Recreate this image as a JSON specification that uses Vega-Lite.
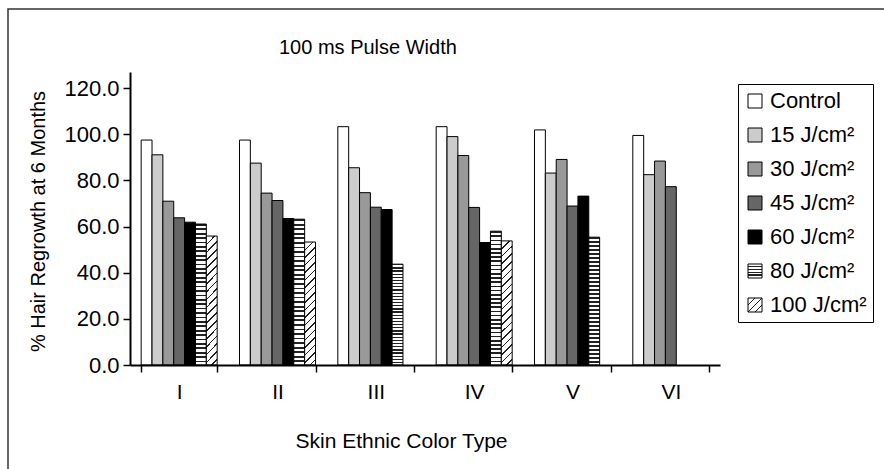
{
  "$schema": "https://vega.github.io/schema/vega-lite/v6.json",
  "width": 890,
  "height": 470,
  "autosize": {"type": "none"},
  "padding": {"left": 8, "top": 9, "right": 0, "bottom": 0},
  "background": "white",
  "config": {
    "font": "Liberation Sans",
    "view": {"stroke": "#333333", "strokeWidth": 1.5, "fill": "white"}
  },
  "title": {
    "text": "100 ms Pulse Width",
    "anchor": "start",
    "frame": "group",
    "dx": 271,
    "offset": 0,
    "dy": 65,
    "baseline": "alphabetic",
    "fontSize": 20,
    "fontWeight": "normal",
    "color": "black"
  },
  "data": {
    "values": [
      {"type": "I", "dose": "Control", "value": 97.5},
      {"type": "I", "dose": "15 J/cm²", "value": 91.1},
      {"type": "I", "dose": "30 J/cm²", "value": 71.0},
      {"type": "I", "dose": "45 J/cm²", "value": 63.8},
      {"type": "I", "dose": "60 J/cm²", "value": 61.9},
      {"type": "I", "dose": "80 J/cm²", "value": 61.1},
      {"type": "I", "dose": "100 J/cm²", "value": 55.9},
      {"type": "II", "dose": "Control", "value": 97.5},
      {"type": "II", "dose": "15 J/cm²", "value": 87.5},
      {"type": "II", "dose": "30 J/cm²", "value": 74.5},
      {"type": "II", "dose": "45 J/cm²", "value": 71.3},
      {"type": "II", "dose": "60 J/cm²", "value": 63.5},
      {"type": "II", "dose": "80 J/cm²", "value": 63.2},
      {"type": "II", "dose": "100 J/cm²", "value": 53.3},
      {"type": "III", "dose": "Control", "value": 103.3},
      {"type": "III", "dose": "15 J/cm²", "value": 85.5},
      {"type": "III", "dose": "30 J/cm²", "value": 74.7},
      {"type": "III", "dose": "45 J/cm²", "value": 68.4},
      {"type": "III", "dose": "60 J/cm²", "value": 67.4},
      {"type": "III", "dose": "80 J/cm²", "value": 43.7},
      {"type": "IV", "dose": "Control", "value": 103.3},
      {"type": "IV", "dose": "15 J/cm²", "value": 99.0},
      {"type": "IV", "dose": "30 J/cm²", "value": 90.8},
      {"type": "IV", "dose": "45 J/cm²", "value": 68.3},
      {"type": "IV", "dose": "60 J/cm²", "value": 53.1},
      {"type": "IV", "dose": "80 J/cm²", "value": 58.0},
      {"type": "IV", "dose": "100 J/cm²", "value": 53.8},
      {"type": "V", "dose": "Control", "value": 101.9},
      {"type": "V", "dose": "15 J/cm²", "value": 83.2},
      {"type": "V", "dose": "30 J/cm²", "value": 89.1},
      {"type": "V", "dose": "45 J/cm²", "value": 68.9},
      {"type": "V", "dose": "60 J/cm²", "value": 73.2},
      {"type": "V", "dose": "80 J/cm²", "value": 55.4},
      {"type": "VI", "dose": "Control", "value": 99.5},
      {"type": "VI", "dose": "15 J/cm²", "value": 82.5},
      {"type": "VI", "dose": "30 J/cm²", "value": 88.4},
      {"type": "VI", "dose": "45 J/cm²", "value": 77.3}
    ]
  },
  "mark": {"type": "bar", "strokeWidth": 1},
  "encoding": {
    "x": {
      "field": "type",
      "type": "nominal",
      "sort": ["I", "II", "III", "IV", "V", "VI"],
      "scale": {"range": [122, 712], "paddingInner": 0.227, "paddingOuter": 0.1135},
      "axis": {
        "orient": "bottom",
        "offset": -114,
        "tickBand": "extent",
        "domainColor": "black",
        "domainWidth": 2,
        "tickColor": "black",
        "tickWidth": 1.5,
        "tickSize": 7,
        "labelFontSize": 21,
        "labelColor": "black",
        "labelPadding": 9,
        "labelAngle": 0,
        "title": "Skin Ethnic Color Type",
        "titleFontSize": 21,
        "titleFontWeight": "normal",
        "titleColor": "black",
        "titleX": 393,
        "titleY": 82,
        "titleBaseline": "alphabetic",
        "titleAlign": "center",
        "zindex": 1
      }
    },
    "xOffset": {
      "field": "dose",
      "type": "nominal",
      "sort": ["Control", "15 J/cm²", "30 J/cm²", "45 J/cm²", "60 J/cm²", "80 J/cm²", "100 J/cm²"],
      "scale": {"paddingInner": 0, "paddingOuter": 0}
    },
    "y": {
      "field": "value",
      "type": "quantitative",
      "scale": {"domain": [0, 127], "range": [356, 63], "nice": false, "zero": true},
      "axis": {
        "values": [0, 20, 40, 60, 80, 100, 120],
        "format": ".1f",
        "offset": -122,
        "domainColor": "black",
        "domainWidth": 2,
        "tickColor": "black",
        "tickWidth": 1.5,
        "tickSize": 7,
        "labelFontSize": 22,
        "labelColor": "black",
        "labelPadding": 4,
        "grid": false,
        "title": "% Hair Regrowth at 6 Months",
        "titleFontSize": 20,
        "titleFontWeight": "normal",
        "titleColor": "black",
        "titleX": -92,
        "titleY": 212,
        "titleAngle": -90,
        "titleBaseline": "middle",
        "titleAlign": "center",
        "zindex": 1
      }
    },
    "stroke": {
      "field": "dose",
      "type": "nominal",
      "sort": ["Control", "15 J/cm²", "30 J/cm²", "45 J/cm²", "60 J/cm²", "80 J/cm²", "100 J/cm²"],
      "scale": {
        "domain": ["Control", "15 J/cm²", "30 J/cm²", "45 J/cm²", "60 J/cm²", "80 J/cm²", "100 J/cm²"],
        "range": ["#000000", "#000000", "#000000", "#000000", "#000000", "#000000", "#000000"]
      },
      "legend": {
        "orient": "none",
        "legendX": 730,
        "legendY": 75,
        "title": null,
        "strokeColor": "black",
        "padding": 6,
        "symbolType": "square",
        "symbolSize": 196,
        "symbolStrokeWidth": 1,
        "symbolOpacity": 1,
        "labelFontSize": 22,
        "labelColor": "black",
        "labelOffset": 4,
        "rowPadding": 12
      }
    },
    "fill": {
      "condition": [
        {
          "test": "datum.dose === '80 J/cm²'",
          "value": {
            "gradient": "linear", "x1": 0, "y1": 0, "x2": 0, "y2": 1,
            "stops": [
              {"offset": 0, "color": "#222"}, {"offset": 0.0125, "color": "#222"}, {"offset": 0.0125, "color": "#fff"}, {"offset": 0.03125, "color": "#fff"},
              {"offset": 0.03125, "color": "#222"}, {"offset": 0.04375, "color": "#222"}, {"offset": 0.04375, "color": "#fff"}, {"offset": 0.0625, "color": "#fff"},
              {"offset": 0.0625, "color": "#222"}, {"offset": 0.075, "color": "#222"}, {"offset": 0.075, "color": "#fff"}, {"offset": 0.09375, "color": "#fff"},
              {"offset": 0.09375, "color": "#222"}, {"offset": 0.10625, "color": "#222"}, {"offset": 0.10625, "color": "#fff"}, {"offset": 0.125, "color": "#fff"},
              {"offset": 0.125, "color": "#222"}, {"offset": 0.1375, "color": "#222"}, {"offset": 0.1375, "color": "#fff"}, {"offset": 0.15625, "color": "#fff"},
              {"offset": 0.15625, "color": "#222"}, {"offset": 0.16875, "color": "#222"}, {"offset": 0.16875, "color": "#fff"}, {"offset": 0.1875, "color": "#fff"},
              {"offset": 0.1875, "color": "#222"}, {"offset": 0.2, "color": "#222"}, {"offset": 0.2, "color": "#fff"}, {"offset": 0.21875, "color": "#fff"},
              {"offset": 0.21875, "color": "#222"}, {"offset": 0.23125, "color": "#222"}, {"offset": 0.23125, "color": "#fff"}, {"offset": 0.25, "color": "#fff"},
              {"offset": 0.25, "color": "#222"}, {"offset": 0.2625, "color": "#222"}, {"offset": 0.2625, "color": "#fff"}, {"offset": 0.28125, "color": "#fff"},
              {"offset": 0.28125, "color": "#222"}, {"offset": 0.29375, "color": "#222"}, {"offset": 0.29375, "color": "#fff"}, {"offset": 0.3125, "color": "#fff"},
              {"offset": 0.3125, "color": "#222"}, {"offset": 0.325, "color": "#222"}, {"offset": 0.325, "color": "#fff"}, {"offset": 0.34375, "color": "#fff"},
              {"offset": 0.34375, "color": "#222"}, {"offset": 0.35625, "color": "#222"}, {"offset": 0.35625, "color": "#fff"}, {"offset": 0.375, "color": "#fff"},
              {"offset": 0.375, "color": "#222"}, {"offset": 0.3875, "color": "#222"}, {"offset": 0.3875, "color": "#fff"}, {"offset": 0.40625, "color": "#fff"},
              {"offset": 0.40625, "color": "#222"}, {"offset": 0.41875, "color": "#222"}, {"offset": 0.41875, "color": "#fff"}, {"offset": 0.4375, "color": "#fff"},
              {"offset": 0.4375, "color": "#222"}, {"offset": 0.45, "color": "#222"}, {"offset": 0.45, "color": "#fff"}, {"offset": 0.46875, "color": "#fff"},
              {"offset": 0.46875, "color": "#222"}, {"offset": 0.48125, "color": "#222"}, {"offset": 0.48125, "color": "#fff"}, {"offset": 0.5, "color": "#fff"},
              {"offset": 0.5, "color": "#222"}, {"offset": 0.5125, "color": "#222"}, {"offset": 0.5125, "color": "#fff"}, {"offset": 0.53125, "color": "#fff"},
              {"offset": 0.53125, "color": "#222"}, {"offset": 0.54375, "color": "#222"}, {"offset": 0.54375, "color": "#fff"}, {"offset": 0.5625, "color": "#fff"},
              {"offset": 0.5625, "color": "#222"}, {"offset": 0.575, "color": "#222"}, {"offset": 0.575, "color": "#fff"}, {"offset": 0.59375, "color": "#fff"},
              {"offset": 0.59375, "color": "#222"}, {"offset": 0.60625, "color": "#222"}, {"offset": 0.60625, "color": "#fff"}, {"offset": 0.625, "color": "#fff"},
              {"offset": 0.625, "color": "#222"}, {"offset": 0.6375, "color": "#222"}, {"offset": 0.6375, "color": "#fff"}, {"offset": 0.65625, "color": "#fff"},
              {"offset": 0.65625, "color": "#222"}, {"offset": 0.66875, "color": "#222"}, {"offset": 0.66875, "color": "#fff"}, {"offset": 0.6875, "color": "#fff"},
              {"offset": 0.6875, "color": "#222"}, {"offset": 0.7, "color": "#222"}, {"offset": 0.7, "color": "#fff"}, {"offset": 0.71875, "color": "#fff"},
              {"offset": 0.71875, "color": "#222"}, {"offset": 0.73125, "color": "#222"}, {"offset": 0.73125, "color": "#fff"}, {"offset": 0.75, "color": "#fff"},
              {"offset": 0.75, "color": "#222"}, {"offset": 0.7625, "color": "#222"}, {"offset": 0.7625, "color": "#fff"}, {"offset": 0.78125, "color": "#fff"},
              {"offset": 0.78125, "color": "#222"}, {"offset": 0.79375, "color": "#222"}, {"offset": 0.79375, "color": "#fff"}, {"offset": 0.8125, "color": "#fff"},
              {"offset": 0.8125, "color": "#222"}, {"offset": 0.825, "color": "#222"}, {"offset": 0.825, "color": "#fff"}, {"offset": 0.84375, "color": "#fff"},
              {"offset": 0.84375, "color": "#222"}, {"offset": 0.85625, "color": "#222"}, {"offset": 0.85625, "color": "#fff"}, {"offset": 0.875, "color": "#fff"},
              {"offset": 0.875, "color": "#222"}, {"offset": 0.8875, "color": "#222"}, {"offset": 0.8875, "color": "#fff"}, {"offset": 0.90625, "color": "#fff"},
              {"offset": 0.90625, "color": "#222"}, {"offset": 0.91875, "color": "#222"}, {"offset": 0.91875, "color": "#fff"}, {"offset": 0.9375, "color": "#fff"},
              {"offset": 0.9375, "color": "#222"}, {"offset": 0.95, "color": "#222"}, {"offset": 0.95, "color": "#fff"}, {"offset": 0.96875, "color": "#fff"},
              {"offset": 0.96875, "color": "#222"}, {"offset": 0.98125, "color": "#222"}, {"offset": 0.98125, "color": "#fff"}, {"offset": 1, "color": "#fff"}
            ]
          }
        },
        {
          "test": "datum.dose === '100 J/cm²'",
          "value": {
            "gradient": "linear", "x1": 0, "y1": 0, "x2": 0.096, "y2": 1.1,
            "stops": [
              {"offset": 0, "color": "#fff"},
              {"offset": 0.055, "color": "#fff"}, {"offset": 0.055, "color": "#222"}, {"offset": 0.067, "color": "#222"}, {"offset": 0.067, "color": "#fff"},
              {"offset": 0.11, "color": "#fff"}, {"offset": 0.11, "color": "#222"}, {"offset": 0.122, "color": "#222"}, {"offset": 0.122, "color": "#fff"},
              {"offset": 0.165, "color": "#fff"}, {"offset": 0.165, "color": "#222"}, {"offset": 0.177, "color": "#222"}, {"offset": 0.177, "color": "#fff"},
              {"offset": 0.22, "color": "#fff"}, {"offset": 0.22, "color": "#222"}, {"offset": 0.232, "color": "#222"}, {"offset": 0.232, "color": "#fff"},
              {"offset": 0.275, "color": "#fff"}, {"offset": 0.275, "color": "#222"}, {"offset": 0.287, "color": "#222"}, {"offset": 0.287, "color": "#fff"},
              {"offset": 0.33, "color": "#fff"}, {"offset": 0.33, "color": "#222"}, {"offset": 0.342, "color": "#222"}, {"offset": 0.342, "color": "#fff"},
              {"offset": 0.385, "color": "#fff"}, {"offset": 0.385, "color": "#222"}, {"offset": 0.397, "color": "#222"}, {"offset": 0.397, "color": "#fff"},
              {"offset": 0.44, "color": "#fff"}, {"offset": 0.44, "color": "#222"}, {"offset": 0.452, "color": "#222"}, {"offset": 0.452, "color": "#fff"},
              {"offset": 0.495, "color": "#fff"}, {"offset": 0.495, "color": "#222"}, {"offset": 0.507, "color": "#222"}, {"offset": 0.507, "color": "#fff"},
              {"offset": 0.55, "color": "#fff"}, {"offset": 0.55, "color": "#222"}, {"offset": 0.562, "color": "#222"}, {"offset": 0.562, "color": "#fff"},
              {"offset": 0.605, "color": "#fff"}, {"offset": 0.605, "color": "#222"}, {"offset": 0.617, "color": "#222"}, {"offset": 0.617, "color": "#fff"},
              {"offset": 0.66, "color": "#fff"}, {"offset": 0.66, "color": "#222"}, {"offset": 0.672, "color": "#222"}, {"offset": 0.672, "color": "#fff"},
              {"offset": 0.715, "color": "#fff"}, {"offset": 0.715, "color": "#222"}, {"offset": 0.727, "color": "#222"}, {"offset": 0.727, "color": "#fff"},
              {"offset": 0.77, "color": "#fff"}, {"offset": 0.77, "color": "#222"}, {"offset": 0.782, "color": "#222"}, {"offset": 0.782, "color": "#fff"},
              {"offset": 0.825, "color": "#fff"}, {"offset": 0.825, "color": "#222"}, {"offset": 0.837, "color": "#222"}, {"offset": 0.837, "color": "#fff"},
              {"offset": 0.88, "color": "#fff"}, {"offset": 0.88, "color": "#222"}, {"offset": 0.892, "color": "#222"}, {"offset": 0.892, "color": "#fff"},
              {"offset": 0.935, "color": "#fff"}, {"offset": 0.935, "color": "#222"}, {"offset": 0.947, "color": "#222"}, {"offset": 0.947, "color": "#fff"},
              {"offset": 1, "color": "#fff"}
            ]
          }
        }
      ],
      "field": "dose",
      "type": "nominal",
      "sort": ["Control", "15 J/cm²", "30 J/cm²", "45 J/cm²", "60 J/cm²", "80 J/cm²", "100 J/cm²"],
      "scale": {
        "domain": ["Control", "15 J/cm²", "30 J/cm²", "45 J/cm²", "60 J/cm²", "80 J/cm²", "100 J/cm²"],
        "range": [
          "#ffffff", "#cccccc", "#999999", "#666666", "#000000",
          {"expr": "{gradient:'linear',x1:0,y1:0,x2:0,y2:1,stops:[{offset:0,color:'#fff'},{offset:0.15,color:'#fff'},{offset:0.15,color:'#222'},{offset:0.25,color:'#222'},{offset:0.25,color:'#fff'},{offset:0.35,color:'#fff'},{offset:0.35,color:'#222'},{offset:0.45,color:'#222'},{offset:0.45,color:'#fff'},{offset:0.55,color:'#fff'},{offset:0.55,color:'#222'},{offset:0.65,color:'#222'},{offset:0.65,color:'#fff'},{offset:0.75,color:'#fff'},{offset:0.75,color:'#222'},{offset:0.85,color:'#222'},{offset:0.85,color:'#fff'},{offset:1,color:'#fff'}]}"},
          {"expr": "{gradient:'linear',x1:0,y1:0,x2:1,y2:1,stops:[{offset:0,color:'#fff'},{offset:0.23,color:'#fff'},{offset:0.23,color:'#222'},{offset:0.28,color:'#222'},{offset:0.28,color:'#fff'},{offset:0.48,color:'#fff'},{offset:0.48,color:'#222'},{offset:0.53,color:'#222'},{offset:0.53,color:'#fff'},{offset:0.73,color:'#fff'},{offset:0.73,color:'#222'},{offset:0.78,color:'#222'},{offset:0.78,color:'#fff'},{offset:1,color:'#fff'}]}"}
        ]
      },
      "legend": {
        "orient": "none",
        "legendX": 730,
        "legendY": 75,
        "title": null,
        "strokeColor": "black",
        "padding": 6,
        "symbolType": "square",
        "symbolSize": 196,
        "symbolStrokeWidth": 1,
        "symbolOpacity": 1,
        "labelFontSize": 22,
        "labelColor": "black",
        "labelOffset": 4,
        "rowPadding": 12
      }
    }
  }
}
